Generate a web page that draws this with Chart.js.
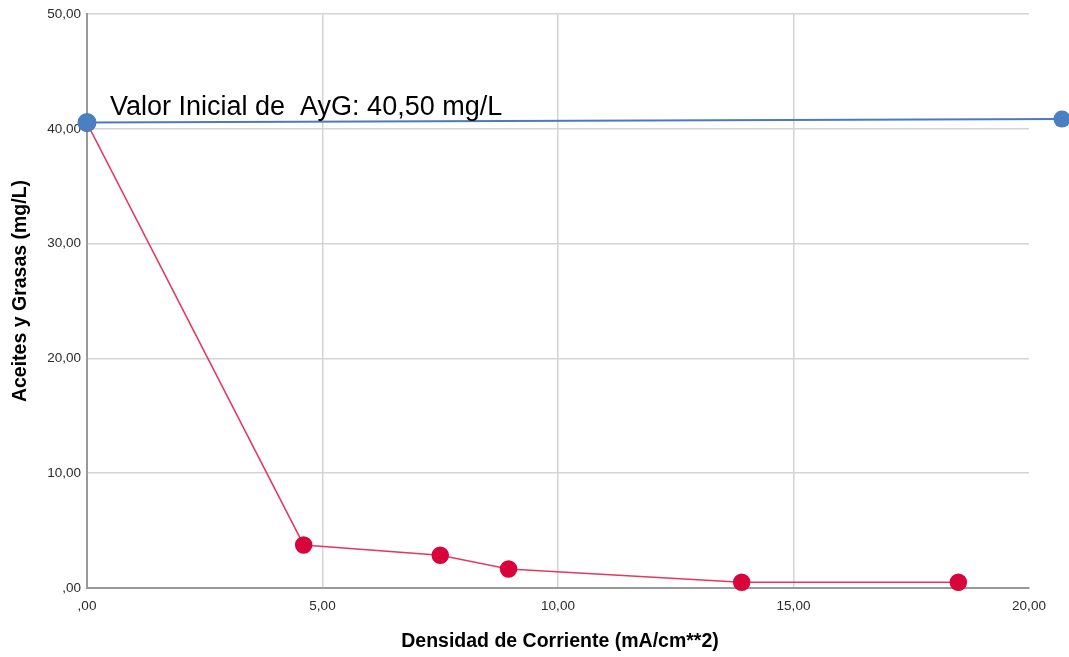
<!DOCTYPE html>
<html>
<head>
<meta charset="utf-8">
<script src="https://cdn.jsdelivr.net/npm/chart.js@4"></script>
<style>
  html, body { margin: 0; padding: 0; background: #fff; }
  #wrap { width: 1069px; height: 657px; }
</style>
</head>
<body>
<div id="wrap"><canvas id="aygChart"></canvas></div>
<script>
// data
var densidad = [0, 4.6, 7.5, 8.95, 13.9, 18.5];
var aceites = [40.5, 3.75, 2.85, 1.65, 0.5, 0.5];
var inicialX = [0, 20.7];
var inicialY = [40.55, 40.85];
var xTicks = [0, 5, 10, 15, 20];
var yTicks = [0, 10, 20, 30, 40, 50];

function fmt(v) {
    var s = v.toFixed(2).replace('.', ',');
    return s.indexOf('0,') === 0 ? s.substring(1) : s;
}

function pts(xs, ys) {
    return xs.map(function (x, i) { return { x: x, y: ys[i] }; });
}

// Chart.js skips points outside the chart area, draw those ones here
var outsidePoints = {
    id: 'outsidePoints',
    afterDatasetsDraw: function (chart) {
        var ctx = chart.ctx;
        var area = chart.chartArea;
        chart.data.datasets.forEach(function (ds, i) {
            chart.getDatasetMeta(i).data.forEach(function (p) {
                if (p.x > area.right + 0.5 || p.x < area.left - 0.5) {
                    ctx.save();
                    ctx.fillStyle = ds.pointBackgroundColor;
                    ctx.beginPath();
                    ctx.arc(p.x, p.y, ds.pointRadius, 0, Math.PI * 2);
                    ctx.fill();
                    ctx.restore();
                }
            });
        });
    }
};

// axis titles and the annotation text
var textPlugin = {
    id: 'textPlugin',
    afterDraw: function (chart) {
        var ctx = chart.ctx;
        var area = chart.chartArea;
        ctx.save();
        ctx.fillStyle = '#000';
        ctx.font = 'bold 19.5px "Liberation Sans", Arial, sans-serif';
        ctx.textAlign = 'center';
        ctx.textBaseline = 'middle';
        ctx.fillText('Densidad de Corriente (mA/cm**2)', 560, 642);
        ctx.translate(21, 291);
        ctx.rotate(-Math.PI / 2);
        ctx.fillText('Aceites y Grasas (mg/L)', 0, 0);
        ctx.restore();

        ctx.save();
        ctx.fillStyle = '#000';
        ctx.font = '27px "Liberation Sans", Arial, sans-serif';
        ctx.textAlign = 'left';
        ctx.textBaseline = 'alphabetic';
        ctx.fillText('Valor Inicial de  AyG: 40,50 mg/L', 110, 115);
        ctx.restore();
    }
};

var ctx = document.getElementById('aygChart').getContext('2d');
var aygChart = new Chart(ctx, {
    type: 'scatter',
    data: {
        datasets: [{
            label: 'Aceites y Grasas',
            data: pts(densidad, aceites),
            showLine: true,
            borderColor: '#e3385f',
            borderWidth: 1.5,
            backgroundColor: '#d9043a',
            pointBackgroundColor: '#d9043a',
            pointBorderColor: '#d9043a',
            pointRadius: 8,
            clip: false,
            order: 2
        }, {
            label: 'Valor Inicial',
            data: pts(inicialX, inicialY),
            showLine: true,
            borderColor: '#4a7bbb',
            borderWidth: 2,
            backgroundColor: '#4a7fc0',
            pointBackgroundColor: '#4a7fc0',
            pointBorderColor: '#4a7fc0',
            pointRadius: 8.5,
            clip: false,
            order: 1
        }]
    },
    options: {
        responsive: true,
        maintainAspectRatio: false,
        animation: false,
        layout: { padding: { left: 0, right: 40, top: 13, bottom: 0 } },
        plugins: {
            legend: { display: false },
            tooltip: { enabled: false }
        },
        scales: {
            x: {
                type: 'linear',
                min: 0,
                max: 20,
                afterFit: function (s) { s.height = 69; },
                afterBuildTicks: function (s) { s.ticks = xTicks.map(function (v) { return { value: v }; }); },
                grid: {
                    drawTicks: false,
                    color: function (c) { return c.tick && c.tick.value === 20 ? 'rgba(0,0,0,0)' : '#d4d4d4'; },
                    lineWidth: 1.5
                },
                border: { color: '#999', width: 2 },
                ticks: {
                    padding: 10,
                    color: '#2a2a2a',
                    font: { family: '"Liberation Sans", Arial, sans-serif', size: 13.5 },
                    maxRotation: 0,
                    callback: function (v) { return fmt(v); }
                }
            },
            y: {
                type: 'linear',
                min: 0,
                max: 50,
                afterFit: function (s) { s.width = 87; },
                afterBuildTicks: function (s) { s.ticks = yTicks.map(function (v) { return { value: v }; }); },
                grid: {
                    drawTicks: false,
                    color: '#d4d4d4',
                    lineWidth: 1.5
                },
                border: { color: '#999', width: 2 },
                ticks: {
                    padding: 6,
                    color: '#2a2a2a',
                    font: { family: '"Liberation Sans", Arial, sans-serif', size: 13.5 },
                    callback: function (v) { return fmt(v); }
                }
            }
        }
    },
    plugins: [outsidePoints, textPlugin]
});
</script>
</body>
</html>
